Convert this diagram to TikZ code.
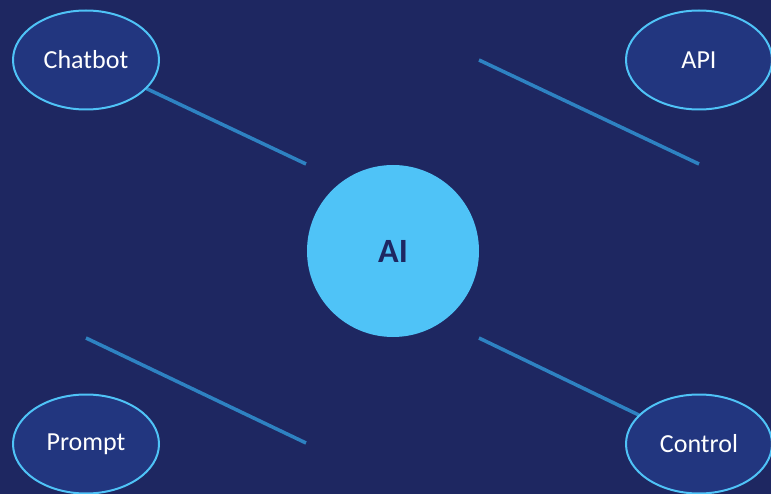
\documentclass[tikz,border=0pt]{standalone}
\usepackage{fontspec}
\setmainfont{Carlito}
\usepackage{tikz}
\usetikzlibrary{shapes.geometric,backgrounds}

\definecolor{navy}{HTML}{1E2761}
\definecolor{nodeblue}{HTML}{22367F}
\definecolor{skyblue}{HTML}{4FC3F7}
\definecolor{linkblue}{HTML}{2E82C2}

\begin{document}
\begin{tikzpicture}[x=1pt, y=-1pt,
  topic/.style={ellipse, fill=nodeblue, draw=skyblue, line width=2pt,
    minimum width=146pt, minimum height=99pt, inner sep=0pt,
    text=white, font=\fontsize{26}{30}\selectfont},
  core/.style={circle, fill=skyblue, minimum size=172pt, inner sep=0pt,
    text=navy, font=\fontsize{34}{40}\selectfont\bfseries},
  link/.style={draw=linkblue, line width=3.5pt}]
\useasboundingbox (0,0) rectangle (771,494);
% nodes
\node[core] (ai) at (393,251) {AI};
\node[topic] (chatbot) at (86,60) {Chatbot};
\node[topic] (api) at (699,60) {API};
\node[topic] (prompt) at (86,444) {Prompt};
\node[topic] (control) at (699,444) {Control};
% free ends
\coordinate (c1) at (306,164);
\coordinate (c2a) at (479,60);
\coordinate (c2b) at (699,164);
\coordinate (c3a) at (86,338);
\coordinate (c3b) at (306,443);
\coordinate (c4) at (479,338);
% background and links
\begin{scope}[on background layer]
\fill[navy] (0,0) rectangle (771,494);
\draw[link] (chatbot.center) -- (c1);
\draw[link] (c2a) -- (c2b);
\draw[link] (c3a) -- (c3b);
\draw[link] (c4) -- (control.center);
\end{scope}
\end{tikzpicture}
\end{document}
